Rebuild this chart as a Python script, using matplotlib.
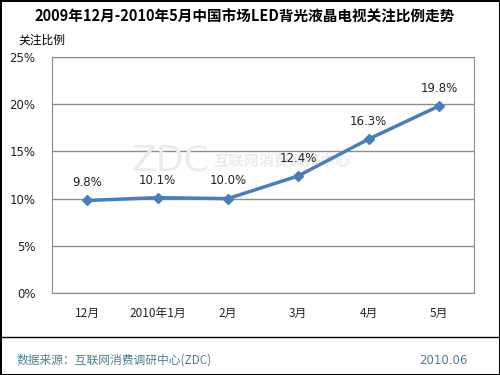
import matplotlib.pyplot as plt
from matplotlib.lines import Line2D

plt.rcParams['font.family'] = ['Noto Sans CJK SC', 'DejaVu Sans']

months = ['12月', '2010年1月', '2月', '3月', '4月', '5月']
share = [9.8, 10.1, 10.0, 12.4, 16.3, 19.8]
yticks = [0, 5, 10, 15, 20, 25]

W, H = 500, 375
fig = plt.figure(figsize=(W / 100, H / 100), dpi=100)
ax = fig.add_axes([52 / W, 1 - 293 / H, 422 / W, 236 / H])

x = list(range(len(months)))
ax.plot(x, share, color='#4a7ebb', lw=2.5, marker='D', ms=5.5, zorder=3)
for xi, v in zip(x, share):
    ax.annotate(f'{v:.1f}%', (xi, v), xytext=(0, 8), textcoords='offset points',
                ha='center', va='bottom', fontsize=8.5, color='#222222', family='DejaVu Sans')

ax.set_xlim(-0.5, len(months) - 0.5)
ax.set_ylim(0, 25)
ax.set_yticks(yticks)
ax.set_yticklabels([f'{t}%' for t in yticks], family='DejaVu Sans', fontsize=8.5, color='#222222')
ax.set_xticks(x)
ax.set_xticklabels(months, fontsize=8.5, color='#222222')
ax.tick_params(length=0, pad=12)
ax.tick_params(axis='x', pad=10)
ax.grid(axis='y', color='#8c8c8c', lw=1)
ax.set_axisbelow(True)
for s in ax.spines.values():
    s.set_color('#8c8c8c')

# watermark
ax.text(0.28, 0.56, 'ZDC', transform=ax.transAxes, fontsize=26, color='#ebebeb',
        family='DejaVu Sans', ha='center', va='center', zorder=1)
ax.text(0.545, 0.56, '互联网消费调研中心', transform=ax.transAxes, fontsize=11, color='#ebebeb',
        ha='center', va='center', zorder=1, weight='bold')

fig.text(0.49, 1 - 17 / H, '2009年12月-2010年5月中国市场LED背光液晶电视关注比例走势',
         ha='center', va='center', fontsize=10.5, weight='bold')
fig.text(18 / W, 1 - 40 / H, '关注比例', ha='left', va='center', fontsize=8.5)
fig.text(17 / W, 1 - 360 / H, '数据来源：互联网消费调研中心(ZDC)', ha='left', va='center',
         fontsize=8.5, color='#4f7f8f')
fig.text(468 / W, 1 - 360 / H, '2010.06', ha='right', va='center', fontsize=8.5,
         color='#4f7f8f', family='DejaVu Sans')

fig.add_artist(Line2D([0, 1], [1 - 337 / H, 1 - 337 / H], color='black', lw=1, transform=fig.transFigure))
fig.patch.set_edgecolor('black')
fig.patch.set_linewidth(2)

fig.savefig('out.png', dpi=100)
